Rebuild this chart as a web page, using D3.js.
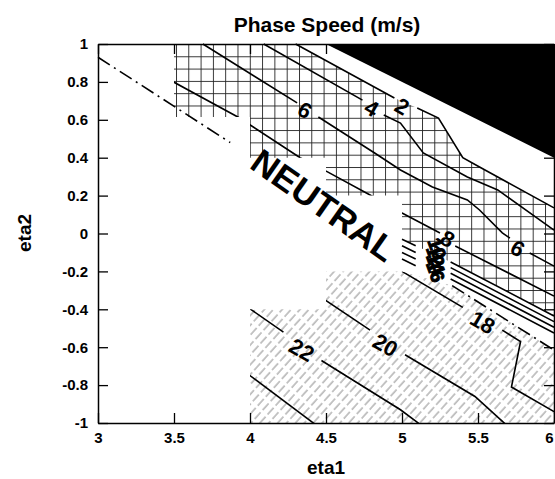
<!DOCTYPE html>
<html>
<head>
<meta charset="utf-8">
<script src="https://d3js.org/d3.v7.min.js"></script>
<style>
  body { margin: 0; background: #fff; }
  text { font-family: "Liberation Sans", Arial, sans-serif; font-weight: bold; }
</style>
</head>
<body>
<div id="chart"></div>
<script>
// tick values and their labels
var xTicks = [3, 3.5, 4, 4.5, 5, 5.5, 6];
var xTickLabels = ["3", "3.5", "4", "4.5", "5", "5.5", "6"];
var yTicks = [-1, -0.8, -0.6, -0.4, -0.2, 0, 0.2, 0.4, 0.6, 0.8, 1];
var yTickLabels = ["-1", "-0.8", "-0.6", "-0.4", "-0.2", "0", "0.2", "0.4", "0.6", "0.8", "1"];

// shaded regions, points are [eta1, eta2]
var blackRegion = [[4.5, 1], [6, 1], [6, 0.40]];
var gridRegion = [[3.5, 1], [4.30, 1], [4.95, 0.715], [5.10, 0.662], [5.24, 0.609], [5.40, 0.40],
    [5.51, 0.351], [5.63, 0.298], [6.0, 0.135], [6.0, -0.435], [5.32, -0.15], [5.0, -0.03],
    [5.0, 0.2], [4.5, 0.2], [4.5, 0.4], [4.0, 0.4], [4.0, 0.615], [3.5, 0.615]];
var hatchRegion = [[4, -1], [4, -0.4], [4.5, -0.4], [4.5, -0.2], [5.0, -0.2], [5.33, -0.275],
    [6, -0.615], [6, -1]];

// neutral boundary (dash-dot), the two pieces that show
var neutralLine = [
    [[3, 0.93], [3.87, 0.48]],
    [[5.33, -0.275], [6, -0.615]]
];

// contours, null = gap left for the label
var upperContours = [
    [[4.30, 1.0], [4.95, 0.715], null, [5.10, 0.662], [5.24, 0.609], [5.40, 0.40], [5.51, 0.351], [5.63, 0.298], [6.0, 0.135]],
    [[4.09, 1.0], [4.74, 0.704], null, [4.88, 0.625], [4.99, 0.583], [5.14, 0.425], [5.43, 0.298], [5.63, 0.23], [6.0, 0.018]],
    [[3.69, 1.0], [4.31, 0.689], null, [4.45, 0.615], [4.82, 0.425], [4.99, 0.335], [5.20, 0.245], [5.43, 0.177], [5.51, 0.124], [5.66, 0.003], [5.71, -0.024], null, [5.84, -0.103], [6.0, -0.172]]
];
var gridContours = [
    [[3.45, 0.82], [3.92, 0.615], [4.33, 0.40], [4.51, 0.325], [4.79, 0.203], [5.0, 0.108], [5.25, 0.003], null, [5.35, -0.066], [6.0, -0.33]]
];
var bandContours = [
    [[5.0, -0.03], [5.09, -0.065], null, [5.32, -0.15], [6.0, -0.435]],
    [[5.0, -0.065], [5.09, -0.10], null, [5.32, -0.18], [6.0, -0.465]],
    [[5.0, -0.10], [5.09, -0.135], null, [5.32, -0.21], [6.0, -0.495]],
    [[5.0, -0.135], [5.09, -0.17], null, [5.32, -0.24], [6.0, -0.525]]
];
var hatchContours = [
    [[5.0, -0.2], [5.40, -0.39], null, [5.66, -0.51], [5.78, -0.57], [5.72, -0.81], [6.0, -0.94]],
    [[4.40, -0.30], [4.79, -0.51], null, [5.02, -0.64], [5.48, -0.86], [5.70, -1.02]],
    [[3.95, -0.37], [4.22, -0.52], null, [4.47, -0.67], [4.99, -0.93], [5.14, -1.02]],
    [[3.95, -0.72], [4.45, -1.02]]
];

var contourLabels = [
    { text: "2", eta1: 5.0, eta2: 0.67 },
    { text: "4", eta1: 4.80, eta2: 0.66 },
    { text: "6", eta1: 4.36, eta2: 0.65 },
    { text: "6", eta1: 5.76, eta2: -0.08 },
    { text: "8", eta1: 5.30, eta2: -0.03 },
    { text: "18", eta1: 5.53, eta2: -0.47 },
    { text: "20", eta1: 4.89, eta2: -0.59 },
    { text: "22", eta1: 4.34, eta2: -0.615 }
];
var crowdedLabels = [
    { text: "10", eta1: 5.23, eta2: -0.08 },
    { text: "12", eta1: 5.22, eta2: -0.12 },
    { text: "14", eta1: 5.22, eta2: -0.16 },
    { text: "16", eta1: 5.22, eta2: -0.20 }
];

function init() {

    var w = 555;
    var h = 479;

    var x = d3.scaleLinear().domain([3, 6]).range([98, 554]);
    var y = d3.scaleLinear().domain([-1, 1]).range([423, 44]);

    var svg = d3.select("#chart")
                .append("svg")
                .attr("width", w)
                .attr("height", h);

    var defs = svg.append("defs");

    // square grid fill
    var grid = defs.append("pattern")
                .attr("id", "grid")
                .attr("patternUnits", "userSpaceOnUse")
                .attr("x", 176).attr("y", 44)
                .attr("width", 12.3).attr("height", 12.3);
    grid.append("path")
        .attr("d", "M0.5,0V12.3M0,0.5H12.3")
        .attr("stroke", "#222")
        .attr("stroke-width", 0.9);

    // diagonal hatch fill
    var hatch = defs.append("pattern")
                .attr("id", "hatch")
                .attr("patternUnits", "userSpaceOnUse")
                .attr("width", 6.6).attr("height", 24)
                .attr("patternTransform", "rotate(42)");
    hatch.append("line")
        .attr("x1", 1).attr("y1", 0).attr("x2", 1).attr("y2", 24)
        .attr("stroke", "#555")
        .attr("stroke-width", 0.7)
        .attr("stroke-dasharray", "9,3");

    var area = d3.line()
                .x(function(d) { return x(d[0]); })
                .y(function(d) { return y(d[1]); });

    var line = d3.line()
                .defined(function(d) { return d !== null; })
                .x(function(d) { return x(d[0]); })
                .y(function(d) { return y(d[1]); });

    defs.append("clipPath").attr("id", "gridClip")
        .append("path").attr("d", area(gridRegion) + "Z");
    defs.append("clipPath").attr("id", "hatchClip")
        .append("path").attr("d", area(hatchRegion) + "Z");

    svg.append("path")
        .attr("d", area(gridRegion) + "Z")
        .attr("fill", "url(#grid)");

    svg.append("path")
        .attr("d", area(hatchRegion) + "Z")
        .attr("fill", "url(#hatch)");

    svg.append("path")
        .attr("d", area(blackRegion) + "Z")
        .attr("fill", "#000");

    // contour lines
    function drawContours(list, clip) {
        var g = svg.append("g");
        if (clip) {
            g.attr("clip-path", "url(#" + clip + ")");
        }
        g.selectAll("path")
            .data(list)
            .enter()
            .append("path")
            .attr("d", line)
            .attr("fill", "none")
            .attr("stroke", "#000")
            .attr("stroke-width", 1.6);
    }
    drawContours(upperContours, null);
    drawContours(gridContours, "gridClip");
    drawContours(bandContours, null);
    drawContours(hatchContours, "hatchClip");

    svg.selectAll(".neutral")
        .data(neutralLine)
        .enter()
        .append("path")
        .attr("class", "neutral")
        .attr("d", line)
        .attr("fill", "none")
        .attr("stroke", "#000")
        .attr("stroke-width", 1.6)
        .attr("stroke-dasharray", "14,5,2,5");

    // contour labels
    svg.selectAll(".clabel")
        .data(contourLabels)
        .enter()
        .append("text")
        .attr("class", "clabel")
        .attr("transform", function(d) {
            return "translate(" + x(d.eta1) + "," + y(d.eta2) + ") rotate(30)";
        })
        .attr("text-anchor", "middle")
        .attr("dominant-baseline", "central")
        .attr("font-size", 22)
        .text(function(d) { return d.text; });

    svg.selectAll(".crowded")
        .data(crowdedLabels)
        .enter()
        .append("text")
        .attr("class", "crowded")
        .attr("transform", function(d) {
            return "translate(" + x(d.eta1) + "," + y(d.eta2) + ") rotate(70)";
        })
        .attr("text-anchor", "middle")
        .attr("dominant-baseline", "central")
        .attr("font-size", 19)
        .attr("stroke", "#000")
        .attr("stroke-width", 1)
        .text(function(d) { return d.text; });

    svg.append("text")
        .attr("transform", "translate(324,205) rotate(35)")
        .attr("text-anchor", "middle")
        .attr("dominant-baseline", "central")
        .attr("font-size", 35)
        .text("NEUTRAL");

    // axes, ticks pointing inward
    var xAxis = d3.axisBottom(x)
                .tickValues(xTicks)
                .tickFormat(function(d, i) { return xTickLabels[i]; })
                .tickSizeInner(-10).tickSizeOuter(0).tickPadding(9);
    var yAxis = d3.axisLeft(y)
                .tickValues(yTicks)
                .tickFormat(function(d, i) { return yTickLabels[i]; })
                .tickSizeInner(-10).tickSizeOuter(0).tickPadding(10);
    var xTop = d3.axisTop(x).tickValues(xTicks).tickFormat("").tickSizeInner(-10).tickSizeOuter(0);
    var yRight = d3.axisRight(y).tickValues(yTicks).tickFormat("").tickSizeInner(-10).tickSizeOuter(0);

    var gx = svg.append("g").attr("transform", "translate(0,423)").call(xAxis);
    var gy = svg.append("g").attr("transform", "translate(98,0)").call(yAxis);
    var gt = svg.append("g").attr("transform", "translate(0,44)").call(xTop);
    var gr = svg.append("g").attr("transform", "translate(554,0)").call(yRight);

    [gx, gy, gt, gr].forEach(function(g) {
        g.attr("font-family", null).attr("font-size", 15);
        g.select(".domain").attr("stroke-width", 1.5);
        g.selectAll(".tick line").attr("stroke-width", 1.3);
        g.selectAll("text").attr("fill", "#000");
    });

    // last x label sits at the window edge, pull it in so it stays whole
    gx.selectAll(".tick text")
        .filter(function(d) { return d === 6; })
        .attr("text-anchor", "end")
        .attr("dx", -1);

    svg.append("text")
        .attr("x", 327).attr("y", 32)
        .attr("text-anchor", "middle")
        .attr("font-size", 21)
        .text("Phase Speed (m/s)");

    svg.append("text")
        .attr("x", 326).attr("y", 474)
        .attr("text-anchor", "middle")
        .attr("font-size", 19)
        .text("eta1");

    svg.append("text")
        .attr("transform", "translate(31,233) rotate(-90)")
        .attr("text-anchor", "middle")
        .attr("font-size", 19)
        .text("eta2");
}

window.onload = init;
</script>
</body>
</html>
